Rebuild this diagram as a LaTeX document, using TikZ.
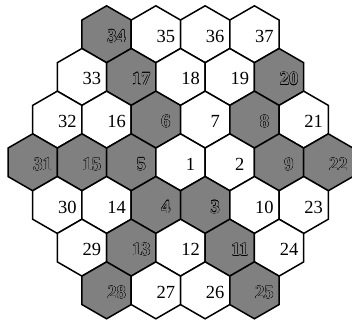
\documentclass[tikz,border=0pt]{standalone}
\usepackage{fontspec}
\setmainfont{Liberation Serif}
\usetikzlibrary{shapes.geometric, calc}
\definecolor{gris}{HTML}{808080}
\definecolor{borde}{HTML}{000000}
% cifras huecas: copias en negro alrededor y la cifra en gris encima
\newcommand{\hueco}[1]{%
  \rlap{\kern-.3pt\textcolor{borde}{#1}}\rlap{\kern.3pt\textcolor{borde}{#1}}%
  \rlap{\raisebox{.3pt}{\textcolor{borde}{#1}}}\rlap{\raisebox{-.3pt}{\textcolor{borde}{#1}}}%
  \rlap{\kern-.21pt\raisebox{.21pt}{\textcolor{borde}{#1}}}\rlap{\kern.21pt\raisebox{.21pt}{\textcolor{borde}{#1}}}%
  \rlap{\kern-.21pt\raisebox{-.21pt}{\textcolor{borde}{#1}}}\rlap{\kern.21pt\raisebox{-.21pt}{\textcolor{borde}{#1}}}%
  \textcolor{gris}{#1}}
\newcommand{\cifraclara}[1]{#1}
\newcommand{\cifraoscura}[1]{\bfseries\hueco{#1}}
\tikzset{
  celda/.style={regular polygon, regular polygon sides=6, shape border rotate=30,
                minimum size=2cm, inner sep=0pt, outer sep=0pt, draw=borde, line width=1.5pt},
  clara/.style={celda, fill=white},
  oscura/.style={celda, fill=gris},
  numero/.style={inner sep=0pt, font=\fontsize{18.5}{20}\selectfont}
}
\begin{document}
\begin{tikzpicture}
  \useasboundingbox (-180.5pt,-157.7pt) rectangle (171.5pt,162.3pt);
  \foreach \i/\r/\n/\s in {
      -3/3/34/oscura, -1/3/35/clara, 1/3/36/clara, 3/3/37/clara,
      -4/2/33/clara, -2/2/17/oscura, 0/2/18/clara, 2/2/19/clara, 4/2/20/oscura,
      -5/1/32/clara, -3/1/16/clara, -1/1/6/oscura, 1/1/7/clara, 3/1/8/oscura, 5/1/21/clara,
      -6/0/31/oscura, -4/0/15/oscura, -2/0/5/oscura, 0/0/1/clara, 2/0/2/clara, 4/0/9/oscura, 6/0/22/oscura,
      -5/-1/30/clara, -3/-1/14/clara, -1/-1/4/oscura, 1/-1/3/oscura, 3/-1/10/clara, 5/-1/23/clara,
      -4/-2/29/clara, -2/-2/13/oscura, 0/-2/12/clara, 2/-2/11/oscura, 4/-2/24/clara,
      -3/-3/28/oscura, -1/-3/27/clara, 1/-3/26/clara, 3/-3/25/oscura} {
    \node[\s] (h\n) at (\i*0.866cm, \r*1.5cm) {};
    \node[numero] (n\n) at ([xshift=10pt, yshift=-2pt]h\n.center) {\csname cifra\s\endcsname{\n}};
  }
\end{tikzpicture}
\end{document}
